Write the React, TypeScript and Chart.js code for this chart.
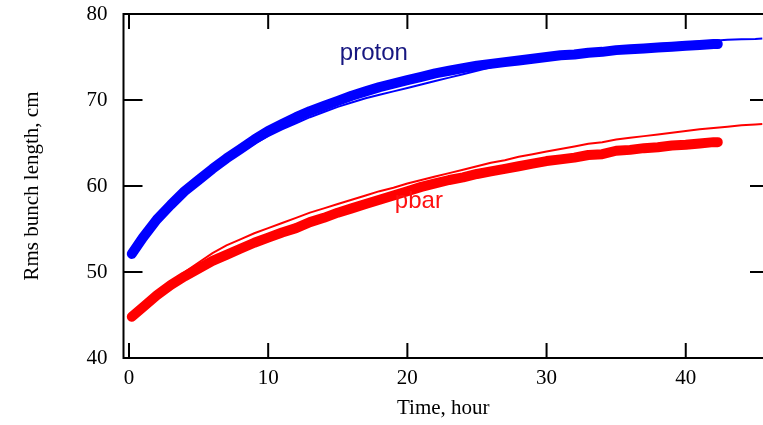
import React, { useEffect, useRef } from "react";
import { Chart, registerables } from "chart.js";

Chart.register(...registerables);

// Measured proton bunch length (thick, dense points)
const protonHours = [0.2, 1, 2, 3, 4, 5, 6, 7, 8, 9, 10, 11, 12, 13, 14, 15, 16, 17, 18, 19, 20, 21, 22, 23, 24, 25, 26, 27, 28, 29, 30, 31, 32, 33, 34, 35, 36, 37, 38, 39, 40, 41, 42, 42.3];
const protonRms = [52.1, 54.0, 56.1, 57.8, 59.4, 60.7, 62.0, 63.2, 64.3, 65.4, 66.4, 67.2, 68.0, 68.7, 69.3, 69.9, 70.5, 71.0, 71.5, 71.9, 72.3, 72.7, 73.1, 73.4, 73.7, 74.0, 74.2, 74.4, 74.6, 74.8, 75.0, 75.2, 75.3, 75.5, 75.6, 75.8, 75.9, 76.0, 76.1, 76.2, 76.3, 76.4, 76.5, 76.5];

// Model proton bunch length (thin line)
const protonModelHours = [0, 1, 2, 3, 4, 5, 6, 7, 8, 9, 10, 11, 12, 13, 14, 15, 16, 17, 18, 19, 20, 21, 22, 23, 24, 25, 26, 27, 28, 29, 30, 31, 32, 33, 34, 35, 36, 37, 38, 39, 40, 41, 42, 43, 44, 45, 45.5];
const protonModel = [52.1, 54.0, 56.0, 57.7, 59.2, 60.5, 61.7, 62.8, 63.9, 64.9, 65.8, 66.6, 67.3, 68.0, 68.6, 69.2, 69.7, 70.2, 70.6, 71.0, 71.4, 71.8, 72.2, 72.6, 73.0, 73.4, 73.8, 74.15, 74.5, 74.8, 75.1, 75.3, 75.5, 75.7, 75.9, 76.0, 76.2, 76.3, 76.5, 76.6, 76.7, 76.8, 76.9, 77.0, 77.05, 77.1, 77.15];

// Measured pbar bunch length (thick, dense points)
const pbarHours = [0.2, 1, 2, 3, 4, 5, 6, 7, 8, 9, 10, 11, 12, 13, 14, 15, 16, 17, 18, 19, 20, 21, 22, 23, 24, 25, 26, 27, 28, 29, 30, 31, 32, 33, 34, 35, 36, 37, 38, 39, 40, 41, 42, 42.3];
const pbarRms = [44.8, 45.9, 47.3, 48.5, 49.5, 50.4, 51.3, 52.0, 52.7, 53.4, 54.0, 54.6, 55.1, 55.8, 56.3, 56.9, 57.4, 57.9, 58.4, 58.9, 59.4, 59.9, 60.3, 60.7, 61.0, 61.4, 61.7, 62.0, 62.3, 62.6, 62.9, 63.1, 63.3, 63.6, 63.7, 64.1, 64.2, 64.4, 64.5, 64.7, 64.8, 64.95, 65.1, 65.1];

// Model pbar bunch length (thin line)
const pbarModelHours = [0, 1, 2, 3, 4, 5, 6, 7, 8, 9, 10, 11, 12, 13, 14, 15, 16, 17, 18, 19, 20, 21, 22, 23, 24, 25, 26, 27, 28, 29, 30, 31, 32, 33, 34, 35, 36, 37, 38, 39, 40, 41, 42, 43, 44, 45, 45.5];
const pbarModel = [44.8, 46.0, 47.4, 48.8, 50.0, 51.1, 52.2, 53.1, 53.8, 54.5, 55.1, 55.7, 56.3, 56.9, 57.4, 57.9, 58.4, 58.9, 59.4, 59.8, 60.3, 60.7, 61.1, 61.5, 61.9, 62.3, 62.7, 63.0, 63.4, 63.7, 64.0, 64.3, 64.6, 64.9, 65.1, 65.4, 65.6, 65.8, 66.0, 66.2, 66.4, 66.6, 66.75, 66.9, 67.05, 67.15, 67.2];

const xTitle = "Time, hour";
const yTitle = "Rms bunch length, cm";
const labels = [
  { text: "proton", x: 15.15, y: 74.65, color: "#161680" },
  { text: "pbar", x: 19.1, y: 57.4, color: "#ff1010" },
];

const toPoints = (xs: number[], ys: number[]) => xs.map((x, i) => ({ x, y: ys[i] }));

const framePlugin = {
  id: "frame",
  afterDatasetsDraw(chart: any) {
    const { ctx, chartArea, scales } = chart;
    const { left, top, right, bottom } = chartArea;
    const xs = scales.x;
    const ys = scales.y;
    ctx.save();
    ctx.strokeStyle = "#000";
    ctx.lineWidth = 2;
    ctx.beginPath();
    ctx.moveTo(right + 2, top);
    ctx.lineTo(left, top);
    ctx.lineTo(left, bottom);
    ctx.lineTo(right + 2, bottom);
    ctx.stroke();
    ctx.beginPath();
    for (const t of xs.ticks) {
      const px = xs.getPixelForValue(t.value);
      ctx.moveTo(px, top);
      ctx.lineTo(px, top + 15);
      ctx.moveTo(px, bottom);
      ctx.lineTo(px, bottom - 15);
    }
    for (const t of ys.ticks) {
      const py = ys.getPixelForValue(t.value);
      ctx.moveTo(left, py);
      ctx.lineTo(left + 19, py);
      ctx.moveTo(right + 6, py);
      ctx.lineTo(right - 13, py);
    }
    ctx.stroke();
    ctx.font = "24px 'Liberation Sans', Arial, sans-serif";
    ctx.textBaseline = "alphabetic";
    ctx.textAlign = "left";
    for (const l of labels) {
      ctx.fillStyle = l.color;
      ctx.fillText(l.text, xs.getPixelForValue(l.x), ys.getPixelForValue(l.y));
    }
    ctx.restore();
  },
};

export default function App() {
  const ref = useRef<HTMLCanvasElement | null>(null);
  useEffect(() => {
    if (!ref.current) return;
    const serif = { family: "'Liberation Serif', 'Times New Roman', serif", size: 21 };
    const chart = new Chart(ref.current, {
      type: "scatter",
      data: {
        datasets: [
          {
            label: "proton model",
            data: toPoints(protonModelHours, protonModel),
            showLine: true,
            borderColor: "#0000ff",
            borderWidth: 2,
            pointRadius: 0,
            order: 2,
          },
          {
            label: "pbar model",
            data: toPoints(pbarModelHours, pbarModel),
            showLine: true,
            borderColor: "#ff0000",
            borderWidth: 2,
            pointRadius: 0,
            order: 2,
          },
          {
            label: "proton",
            data: toPoints(protonHours, protonRms),
            showLine: true,
            borderColor: "#0000ff",
            borderWidth: 10,
            borderCapStyle: "round",
            borderJoinStyle: "round",
            pointRadius: 0,
            order: 1,
          },
          {
            label: "pbar",
            data: toPoints(pbarHours, pbarRms),
            showLine: true,
            borderColor: "#ff0000",
            borderWidth: 10,
            borderCapStyle: "round",
            borderJoinStyle: "round",
            pointRadius: 0,
            order: 1,
          },
        ],
      },
      options: {
        responsive: false,
        animation: false,
        devicePixelRatio: 1,
        layout: { padding: { top: 14, left: 0, right: 0, bottom: 0 } },
        plugins: { legend: { display: false }, tooltip: { enabled: false } },
        scales: {
          x: {
            type: "linear",
            min: -0.395,
            max: 45.55,
            grid: { display: false, drawTicks: false },
            border: { display: false },
            ticks: { stepSize: 10, includeBounds: false, color: "#000", font: serif, padding: 8, maxRotation: 0 },
            title: { display: true, text: xTitle, color: "#000", font: serif, padding: { top: 0, bottom: 4 } },
            afterFit: (s: any) => {
              s.height = 67;
              s.paddingLeft = 0;
              s.paddingRight = 0;
            },
          },
          y: {
            type: "linear",
            min: 40,
            max: 80,
            grid: { display: false, drawTicks: false },
            border: { display: false },
            ticks: { stepSize: 10, includeBounds: false, color: "#000", font: serif, padding: 16 },
            title: { display: true, text: yTitle, color: "#000", font: serif, padding: { top: 20, bottom: 0 } },
            afterFit: (s: any) => {
              s.width = 123.5;
              s.paddingTop = 0;
              s.paddingBottom = 0;
            },
          },
        },
      },
      plugins: [framePlugin],
    } as any);
    return () => chart.destroy();
  }, []);
  return (
    <div style={{ position: "fixed", left: 0, top: 0, width: 763, height: 425, background: "#fff" }}>
      <canvas ref={ref} width={763} height={425} />
    </div>
  );
}
